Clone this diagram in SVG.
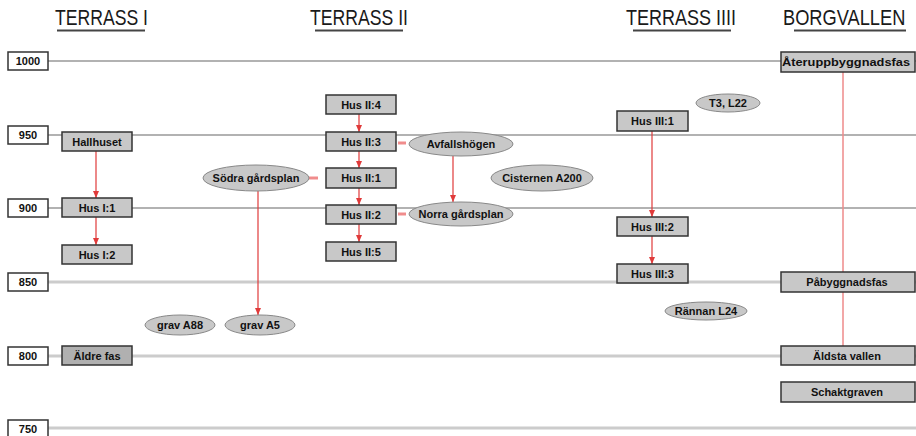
<svg xmlns="http://www.w3.org/2000/svg" width="916" height="436" viewBox="0 0 916 436">
<style>
.hdr{font-family:"Liberation Sans",Arial,sans-serif;font-size:22px;fill:#1a1a1a}
.ul{stroke:#444;stroke-width:2}
.grid{stroke:#999;stroke-width:1.5}
.gridl{stroke:#ccc;stroke-width:3}
.yr{fill:#fff;stroke:#333;stroke-width:1.5}
.box{fill:#c8c8c8;stroke:#333;stroke-width:1.5}
.dark{fill:#b0b0b0}
.ell{fill:#c8c8c8;stroke:#888;stroke-width:1}
.t{font-family:"Liberation Sans",Arial,sans-serif;font-size:11px;font-weight:bold;fill:#111;text-anchor:middle}
.ar{stroke:#e03a3a;stroke-width:1.2;fill:none;marker-end:url(#ah)}
.ln{stroke:#ee8a8a;stroke-width:1.5;fill:none}
.dash{stroke:#f08c8c;stroke-width:3}
</style>
<defs>
<marker id="ah" markerWidth="8" markerHeight="6" refX="7" refY="3" orient="auto" markerUnits="userSpaceOnUse">
<path d="M0,0 L7,3 L0,6 Z" fill="#e03a3a"/>
</marker>
</defs>

<g id="headers">
<text class="hdr" x="55" y="25" textLength="93" lengthAdjust="spacingAndGlyphs">TERRASS I</text>
<line class="ul" x1="57" y1="30.5" x2="145" y2="30.5"/>
<text class="hdr" x="310" y="25" textLength="98" lengthAdjust="spacingAndGlyphs">TERRASS II</text>
<line class="ul" x1="315" y1="30.5" x2="403" y2="30.5"/>
<text class="hdr" x="626" y="25" textLength="110" lengthAdjust="spacingAndGlyphs">TERRASS IIII</text>
<line class="ul" x1="633" y1="30.5" x2="731" y2="30.5"/>
<text class="hdr" transform="translate(783,25) scale(0.83,1)" x="0" y="0">BORGVALLEN</text>
<line class="ul" x1="794" y1="30.5" x2="906" y2="30.5"/>
</g>

<g id="gridlines">
<line class="grid" x1="48" y1="61" x2="916" y2="61"/>
<line class="grid" x1="48" y1="135" x2="916" y2="135"/>
<line class="grid" x1="48" y1="208" x2="916" y2="208"/>
<line class="gridl" x1="48" y1="282" x2="916" y2="282"/>
<line class="gridl" x1="48" y1="356" x2="916" y2="356"/>
<line class="gridl" x1="48" y1="428" x2="916" y2="428"/>
</g>

<g id="y1000"><rect class="yr" x="8" y="52" width="40" height="18"/><text class="t" x="28" y="65">1000</text></g>
<g id="y950"><rect class="yr" x="8" y="126" width="40" height="18"/><text class="t" x="28" y="139">950</text></g>
<g id="y900"><rect class="yr" x="8" y="199" width="40" height="18"/><text class="t" x="28" y="212">900</text></g>
<g id="y850"><rect class="yr" x="8" y="273" width="40" height="18"/><text class="t" x="28" y="286">850</text></g>
<g id="y800"><rect class="yr" x="8" y="347" width="40" height="18"/><text class="t" x="28" y="360">800</text></g>
<g id="y750"><rect class="yr" x="8" y="420" width="40" height="18"/><text class="t" x="28" y="433">750</text></g>

<g id="connectors">
<line class="ar" x1="96" y1="151" x2="96" y2="198"/>
<line class="ar" x1="96" y1="217" x2="96" y2="245"/>
<line class="ar" x1="359" y1="114" x2="359" y2="132"/>
<line class="ar" x1="359" y1="151" x2="359" y2="168"/>
<line class="ar" x1="359" y1="188" x2="359" y2="205"/>
<line class="ar" x1="359" y1="224" x2="359" y2="242"/>
<line class="ar" x1="453" y1="156" x2="453" y2="202"/>
<line class="ar" x1="258" y1="191" x2="258" y2="315"/>
<line class="ar" x1="652" y1="131" x2="652" y2="217"/>
<line class="ar" x1="652" y1="236" x2="652" y2="264"/>
<line class="ln" x1="843" y1="72" x2="843" y2="346"/>
<line class="dash" x1="398" y1="143" x2="406" y2="143"/>
<line class="dash" x1="309" y1="178" x2="318" y2="178"/>
<line class="dash" x1="398" y1="214" x2="406" y2="214"/>
</g>

<g id="hallhuset"><rect class="box" x="62" y="132" width="70" height="19"/><text class="t" x="97" y="145.5">Hallhuset</text></g>
<g id="husI1"><rect class="box" x="62" y="198" width="70" height="19"/><text class="t" x="97" y="211.5">Hus I:1</text></g>
<g id="husI2"><rect class="box" x="62" y="245" width="70" height="19"/><text class="t" x="97" y="258.5">Hus I:2</text></g>
<g id="aldrefas"><rect class="box dark" x="62" y="346" width="70" height="19"/><text class="t" x="97" y="359.5">Äldre fas</text></g>

<g id="husII4"><rect class="box" x="326" y="95" width="70" height="19"/><text class="t" x="361" y="108.5">Hus II:4</text></g>
<g id="husII3"><rect class="box" x="326" y="132" width="70" height="19"/><text class="t" x="361" y="145.5">Hus II:3</text></g>
<g id="husII1"><rect class="box" x="326" y="168" width="70" height="20"/><text class="t" x="361" y="182">Hus II:1</text></g>
<g id="husII2"><rect class="box" x="326" y="205" width="70" height="19"/><text class="t" x="361" y="218.5">Hus II:2</text></g>
<g id="husII5"><rect class="box" x="326" y="242" width="70" height="19"/><text class="t" x="361" y="255.5">Hus II:5</text></g>

<g id="avfallshogen"><ellipse class="ell" cx="461" cy="144" rx="52" ry="12"/><text class="t" x="461" y="148">Avfallshögen</text></g>
<g id="norragardsplan"><ellipse class="ell" cx="461" cy="214" rx="52" ry="12"/><text class="t" x="461" y="218">Norra gårdsplan</text></g>
<g id="sodragardsplan"><ellipse class="ell" cx="256" cy="178" rx="53" ry="13"/><text class="t" x="256" y="182">Södra gårdsplan</text></g>
<g id="cisternen"><ellipse class="ell" cx="542" cy="178" rx="51" ry="13"/><text class="t" x="542" y="182">Cisternen A200</text></g>
<g id="gravA88"><ellipse class="ell" cx="180" cy="325" rx="35" ry="10"/><text class="t" x="180" y="329">grav A88</text></g>
<g id="gravA5"><ellipse class="ell" cx="260" cy="325" rx="35" ry="10"/><text class="t" x="260" y="329">grav A5</text></g>

<g id="husIII1"><rect class="box" x="617" y="111" width="71" height="20"/><text class="t" x="652.5" y="125">Hus III:1</text></g>
<g id="husIII2"><rect class="box" x="617" y="217" width="71" height="19"/><text class="t" x="652.5" y="230.5">Hus III:2</text></g>
<g id="husIII3"><rect class="box" x="617" y="264" width="71" height="19"/><text class="t" x="652.5" y="277.5">Hus III:3</text></g>
<g id="t3l22"><ellipse class="ell" cx="728" cy="103" rx="32" ry="9"/><text class="t" x="728" y="107">T3, L22</text></g>
<g id="rannan"><ellipse class="ell" cx="706" cy="311" rx="41" ry="9"/><text class="t" x="706" y="315">Rännan L24</text></g>

<g id="ateruppbyggnadsfas"><rect class="box" x="781" y="52" width="134" height="20"/><text class="t" x="846" y="66" textLength="128" lengthAdjust="spacingAndGlyphs">Återuppbyggnadsfas</text></g>
<g id="pabyggnadsfas"><rect class="box" x="781" y="272" width="134" height="20"/><text class="t" x="847" y="286">Påbyggnadsfas</text></g>
<g id="aldstavallen"><rect class="box" x="781" y="346" width="134" height="19"/><text class="t" x="847" y="359.5">Äldsta vallen</text></g>
<g id="schaktgraven"><rect class="box" x="781" y="382" width="134" height="20"/><text class="t" x="847" y="396">Schaktgraven</text></g>
</svg>
